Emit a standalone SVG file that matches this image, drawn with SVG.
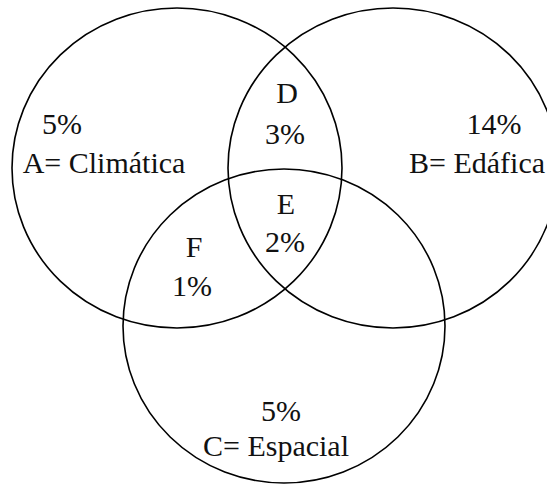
<svg xmlns="http://www.w3.org/2000/svg" width="547" height="484" viewBox="0 0 547 484">
<style>
.c{fill:none;stroke:#000;stroke-width:1.6}
text{font-family:"Liberation Serif","Times New Roman",serif;font-size:30px;fill:#111;text-anchor:middle}
</style>
<rect width="547" height="484" fill="#fff"/>
<g id="circleA"><ellipse class="c" cx="177" cy="168" rx="165" ry="160"/>
<text x="62" y="134">5%</text><text x="104" y="173">A= Climática</text></g>
<g id="circleB"><ellipse class="c" cx="393" cy="168" rx="165" ry="160"/>
<text x="494" y="134">14%</text><text x="477" y="173">B= Edáfica</text></g>
<g id="circleC"><ellipse class="c" cx="284" cy="326" rx="161" ry="157"/>
<text x="281" y="421">5%</text><text x="276" y="456">C= Espacial</text></g>
<g id="D"><text x="287" y="103">D</text><text x="285" y="144">3%</text></g>
<g id="E"><text x="286" y="214">E</text><text x="285" y="252">2%</text></g>
<g id="F"><text x="194" y="257">F</text><text x="192" y="296">1%</text></g>
<g id="connectors"/>
</svg>
